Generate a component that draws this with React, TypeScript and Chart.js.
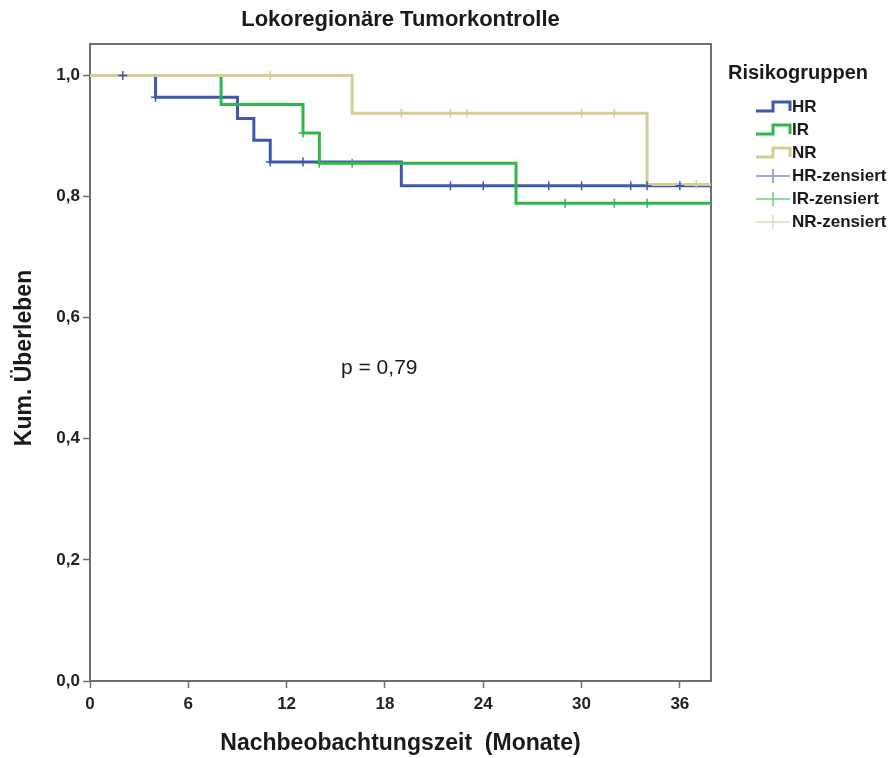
import React, { useEffect, useRef } from "react";
import { Chart, registerables } from "chart.js";

Chart.register(...registerables);

// ---- data ----
const xTicks = [0, 6, 12, 18, 24, 30, 36];
const yTicks = [0, 0.2, 0.4, 0.6, 0.8, 1.0];
const xMax = 37.9;
const yMax = 1.052;

const groupNames = ["HR", "IR", "NR"];

const hrTimes = [0, 4, 9, 10, 11, 19, 40];
const hrSurv = [1, 0.964, 0.929, 0.893, 0.857, 0.818, 0.818];
const hrCensored = [2, 4, 11, 13, 22, 24, 28, 30, 33, 34, 36];

const irTimes = [0, 8, 13, 14, 26, 40];
const irSurv = [1, 0.952, 0.905, 0.855, 0.789, 0.789];
const irCensored = [13, 14, 16, 29, 32, 34];

const nrTimes = [0, 16, 34, 40];
const nrSurv = [1, 0.9375, 0.82, 0.82];
const nrCensored = [11, 19, 22, 23, 30, 32, 37];

const pValueText = "p = 0,79";

const colors = { HR: "#3E58AC", IR: "#2EB848", NR: "#D3CE97" };
const censorLegendColors = { HR: "#7f8fd0", IR: "#6fd27c", NR: "#e0dcb4" };

const FONT = '"Liberation Sans", Arial, Helvetica, sans-serif';

function stepValue(times: number[], surv: number[], t: number) {
  let v = surv[0];
  for (let i = 0; i < times.length; i++) {
    if (times[i] <= t) v = surv[i];
  }
  return v;
}

const curves = [
  { name: "HR", times: hrTimes, surv: hrSurv, cens: hrCensored },
  { name: "IR", times: irTimes, surv: irSurv, cens: irCensored },
  { name: "NR", times: nrTimes, surv: nrSurv, cens: nrCensored },
];

const fmt = (v: number) => v.toFixed(1).replace(".", ",");

const overlayPlugin = {
  id: "overlay",
  beforeDatasetsDraw(chart: any) {
    const { ctx, chartArea: a } = chart;
    ctx.save();
    ctx.strokeStyle = "#6e6e6e";
    ctx.lineWidth = 2;
    ctx.strokeRect(a.left, a.top, a.right - a.left, a.bottom - a.top);
    ctx.restore();
  },
  afterDraw(chart: any) {
    const { ctx, chartArea: a } = chart;
    const cx = (a.left + a.right) / 2;
    ctx.save();
    ctx.fillStyle = "#1a1a1a";
    ctx.textBaseline = "middle";

    // title
    ctx.font = `bold 22px ${FONT}`;
    ctx.textAlign = "center";
    ctx.fillText("Lokoregionäre Tumorkontrolle", cx, 20);

    // x title
    ctx.font = `bold 23px ${FONT}`;
    ctx.fillText("Nachbeobachtungszeit  (Monate)", cx, 744);

    // y title
    ctx.save();
    ctx.translate(25, 358);
    ctx.rotate(-Math.PI / 2);
    ctx.font = `bold 23px ${FONT}`;
    ctx.fillText("Kum. Überleben", 0, 0);
    ctx.restore();

    // p-value
    ctx.font = `21px ${FONT}`;
    ctx.textAlign = "left";
    ctx.fillText(pValueText, 341, 368);

    // legend
    ctx.font = `bold 20px ${FONT}`;
    ctx.fillText("Risikogruppen", 728, 73);
    const x0 = 756;
    const x1 = 773;
    const x2 = 790;
    let y = 107;
    const step = 23;
    ctx.font = `bold 17px ${FONT}`;
    groupNames.forEach((g) => {
      ctx.strokeStyle = (colors as any)[g];
      ctx.lineWidth = 3;
      ctx.beginPath();
      ctx.moveTo(x0, y + 4);
      ctx.lineTo(x1, y + 4);
      ctx.lineTo(x1, y - 5);
      ctx.lineTo(x2, y - 5);
      ctx.lineTo(x2, y + 4);
      ctx.stroke();
      ctx.fillText(g, 792, y);
      y += step;
    });
    groupNames.forEach((g) => {
      ctx.strokeStyle = (censorLegendColors as any)[g];
      ctx.lineWidth = 1.5;
      ctx.beginPath();
      ctx.moveTo(x0, y);
      ctx.lineTo(x2, y);
      ctx.moveTo(x1, y - 7);
      ctx.lineTo(x1, y + 7);
      ctx.stroke();
      ctx.fillText(g + "-zensiert", 792, y);
      y += step;
    });
    ctx.restore();
  },
};

export default function App() {
  const ref = useRef<HTMLCanvasElement | null>(null);

  useEffect(() => {
    if (!ref.current) return;
    const lineSets = curves.map((c, i) => ({
      label: c.name,
      data: c.times.map((t, k) => ({ x: t, y: c.surv[k] })),
      borderColor: (colors as any)[c.name],
      backgroundColor: (colors as any)[c.name],
      borderWidth: 3,
      stepped: true,
      pointRadius: 0,
      fill: false,
      order: 3 - i,
      clip: { left: 3, top: 3, right: 0, bottom: 3 },
    }));
    const censorSets = curves.map((c) => ({
      label: c.name + "-zensiert",
      data: c.cens.map((t) => ({ x: t, y: stepValue(c.times, c.surv, t) })),
      borderColor: (colors as any)[c.name],
      backgroundColor: (colors as any)[c.name],
      showLine: false,
      pointStyle: "cross",
      pointRadius: 4.5,
      pointBorderWidth: 1.5,
      order: 0,
    }));

    const chart = new Chart(ref.current, {
      type: "line",
      data: { datasets: [...lineSets, ...censorSets] as any },
      options: {
        animation: false,
        responsive: false,
        layout: { padding: { top: 44, right: 185, left: 0, bottom: 0 } },
        plugins: {
          legend: { display: false },
          tooltip: { enabled: false },
          title: { display: false },
        },
        scales: {
          x: {
            type: "linear",
            min: 0,
            max: xMax,
            afterBuildTicks: (s: any) => {
              s.ticks = xTicks.map((v) => ({ value: v }));
            },
            afterFit: (s: any) => {
              s.height = 77;
            },
            ticks: {
              color: "#222",
              font: { family: FONT, size: 17, weight: "bold" },
              padding: 6,
              maxRotation: 0,
              callback: (v: any) => String(v),
            },
            grid: {
              drawOnChartArea: false,
              drawTicks: true,
              tickLength: 7,
              tickColor: "#6e6e6e",
              tickWidth: 1.5,
            },
            border: { display: true, color: "#6e6e6e", width: 2 },
          },
          y: {
            type: "linear",
            min: 0,
            max: yMax,
            afterBuildTicks: (s: any) => {
              s.ticks = yTicks.map((v) => ({ value: v }));
            },
            afterFit: (s: any) => {
              s.width = 90;
            },
            ticks: {
              color: "#222",
              font: { family: FONT, size: 17, weight: "bold" },
              padding: 3,
              callback: (v: any) => fmt(Number(v)),
            },
            grid: {
              drawOnChartArea: false,
              drawTicks: true,
              tickLength: 7,
              tickColor: "#6e6e6e",
              tickWidth: 1.5,
            },
            border: { display: true, color: "#6e6e6e", width: 2 },
          },
        },
      } as any,
      plugins: [overlayPlugin],
    });
    return () => chart.destroy();
  }, []);

  return (
    <div style={{ position: "absolute", left: 0, top: 0, width: 896, height: 758, background: "#fff" }}>
      <canvas ref={ref} width={896} height={758} />
    </div>
  );
}
